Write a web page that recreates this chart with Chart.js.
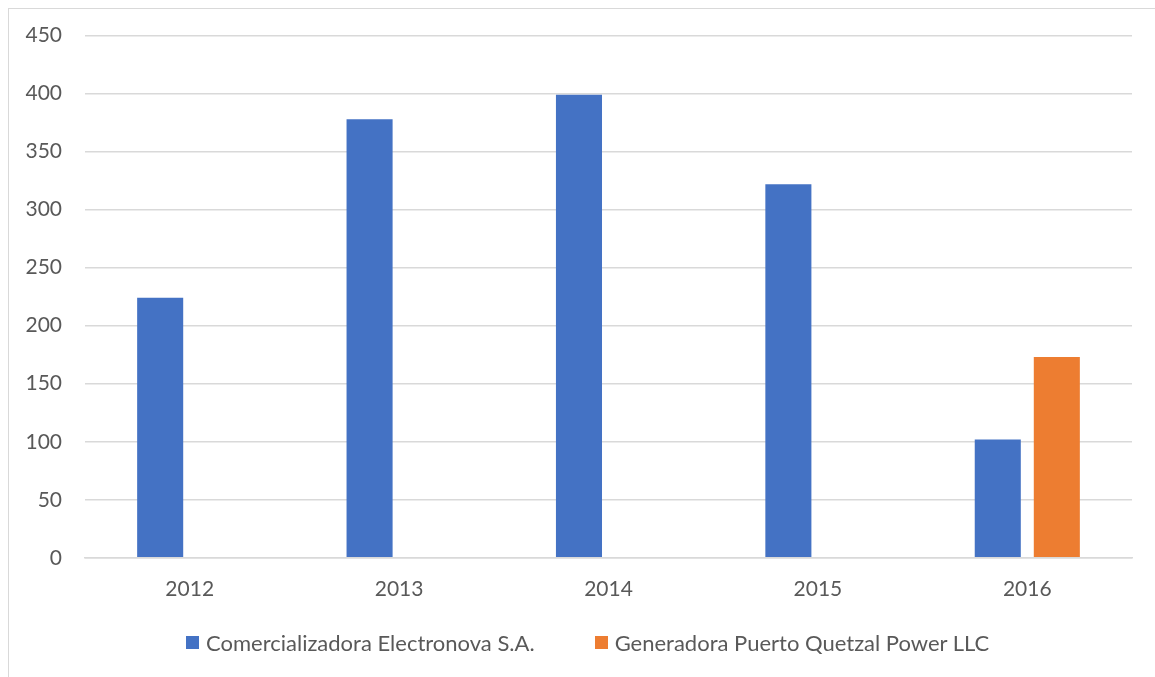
<!DOCTYPE html>
<html>
<head>
<meta charset="utf-8">
<script src="https://cdn.jsdelivr.net/npm/chart.js@4.4.1/dist/chart.umd.min.js"></script>
<style>
  html, body { margin: 0; padding: 0; background: #ffffff; overflow: hidden; }
  #frame { position: absolute; left: 8px; top: 8px; width: 1200px; height: 700px; border: 1.5px solid #d9d9d9; box-sizing: border-box; }
  #wrap { position: absolute; left: 0; top: 0; width: 1155px; height: 677px; }
  #legend { position: absolute; left: 186px; top: 628px; height: 28px; display: flex; align-items: center;
            font-family: Lato, "Open Sans", sans-serif; font-size: 22px; color: #595959; white-space: nowrap; }
  .item { display: flex; align-items: center; margin-right: 60px; }
  .box { width: 13px; height: 13px; margin-right: 7px; }
</style>
</head>
<body>
<div id="frame"></div>
<div id="wrap"><canvas id="c" width="1155" height="677"></canvas></div>
<div id="legend"></div>
<script>
const categories = ['2012', '2013', '2014', '2015', '2016'];
const seriesNames = ['Comercializadora Electronova S.A.', 'Generadora Puerto Quetzal Power LLC'];
const comercializadora = [224, 378, 399, 322, 102];
const generadora = [null, null, null, null, 173];
const yTicks = [0, 50, 100, 150, 200, 250, 300, 350, 400, 450];
const seriesColors = ['#4472C4', '#ED7D31'];

const textColor = '#595959';
const gridColor = '#d9d9d9';
const fontFamily = 'Lato, "Open Sans", sans-serif';

const chart = new Chart(document.getElementById('c'), {
  type: 'bar',
  data: {
    labels: categories,
    datasets: [
      { label: seriesNames[0], data: comercializadora, backgroundColor: seriesColors[0], borderWidth: 0,
        categoryPercentage: 0.564, barPercentage: 0.78 },
      { label: seriesNames[1], data: generadora, backgroundColor: seriesColors[1], borderWidth: 0,
        categoryPercentage: 0.564, barPercentage: 0.78 }
    ]
  },
  options: {
    responsive: false,
    animation: false,
    layout: { padding: { left: 0, right: 23, top: 34, bottom: 56 } },
    plugins: {
      legend: { display: false },
      tooltip: { enabled: false }
    },
    scales: {
      x: {
        grid: { display: false, drawTicks: false },
        border: { display: true, color: gridColor, width: 1.5 },
        ticks: { color: textColor, font: { family: fontFamily, size: 21 }, padding: 19 }
      },
      y: {
        min: 0, max: 450,
        afterBuildTicks: (scale) => { scale.ticks = yTicks.map(v => ({ value: v })); },
        afterFit: (scale) => { scale.width = 85; },
        grid: { color: gridColor, lineWidth: 1.5, drawTicks: false },
        border: { display: false },
        ticks: { color: textColor, font: { family: fontFamily, size: 21 }, padding: 23 }
      }
    }
  }
});

// HTML legend built from the chart's datasets
const legendEl = document.getElementById('legend');
chart.data.datasets.forEach((ds) => {
  const item = document.createElement('div');
  item.className = 'item';
  const box = document.createElement('span');
  box.className = 'box';
  box.style.background = ds.backgroundColor;
  const txt = document.createElement('span');
  txt.textContent = ds.label;
  item.appendChild(box);
  item.appendChild(txt);
  legendEl.appendChild(item);
});
</script>
</body>
</html>
